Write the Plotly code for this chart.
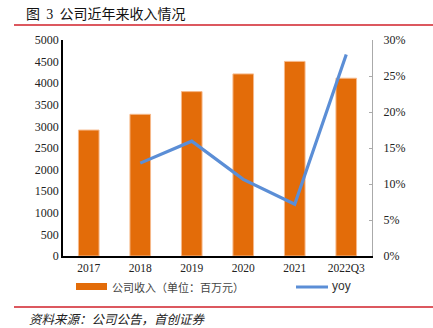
import plotly.graph_objects as go

categories = ["2017", "2018", "2019", "2020", "2021", "2022Q3"]
revenue = [2915, 3280, 3805, 4215, 4505, 4115]
yoy = [None, 12.9, 15.95, 10.65, 7.2, 28.0]
left_ticks = [0, 500, 1000, 1500, 2000, 2500, 3000, 3500, 4000, 4500, 5000]
right_ticks = [0, 5, 10, 15, 20, 25, 30]
title_parts = ["图", "3", "公司近年来收入情况"]
source_text = "资料来源：公司公告，首创证券"
bar_name = "公司收入（单位：百万元）"
line_name = "yoy"

W, H = 433, 328
L, R, T, B = 63, 372, 40, 256

def px(x):
    return (x - L) / (R - L)

def py(y):
    return (B - y) / (B - T)

SERIF = "Liberation Serif, Times New Roman, serif"
CJK = "Noto Sans CJK SC, sans-serif"
ORANGE = "#E36C09"
BLUE = "#5B8ED6"
RED = "#D0202A"

fig = go.Figure()
fig.add_trace(go.Bar(
    x=categories, y=revenue, name=bar_name, width=0.4,
    marker=dict(color=ORANGE, line=dict(color="#F6B98A", width=1)),
    showlegend=False,
))
fig.add_trace(go.Scatter(
    x=categories, y=yoy, name=line_name, yaxis="y2", mode="lines",
    line=dict(color=BLUE, width=3.2), connectgaps=False, showlegend=False,
))

fig.update_layout(
    width=W, height=H,
    margin=dict(l=L, r=W - R, t=T, b=H - B),
    paper_bgcolor="white", plot_bgcolor="white",
    bargap=0.6,
    xaxis=dict(
        showline=True, linecolor="black", linewidth=1.5, ticks="",
        tickfont=dict(family=SERIF, size=11.5, color="#222"),
        showgrid=False, mirror=False,
    ),
    yaxis=dict(
        range=[0, 5000], tickvals=left_ticks, showline=True, linecolor="black",
        linewidth=1.5, ticks="", showgrid=False, zeroline=False,
        tickfont=dict(family=SERIF, size=12, color="#222"),
    ),
    yaxis2=dict(
        range=[0, 30], tickvals=right_ticks, ticktext=[f"{v}%" for v in right_ticks],
        overlaying="y", side="right", showline=True, linecolor="#AAAAAA", linewidth=1.2,
        ticks="inside", ticklen=3, tickcolor="#AAAAAA", showgrid=False, zeroline=False,
        tickfont=dict(family=SERIF, size=12, color="#222"), ticklabelstandoff=8,
    ),
)

shapes = []
annotations = []
# title and underline
nb = "\u00a0"
title_html = (title_parts[0] + nb * 2 + f"<span style='font-family:{SERIF}'>" + title_parts[1]
              + "</span>" + nb * 2 + title_parts[2])
annotations.append(dict(text=title_html, x=px(24), y=py(13), xref="paper", yref="paper",
                        xanchor="left", yanchor="middle", showarrow=False,
                        font=dict(family=CJK, size=14, color="#111")))
shapes.append(dict(type="line", xref="paper", yref="paper", x0=px(14), x1=px(433),
                   y0=py(25), y1=py(25), line=dict(color=RED, width=1.5)))
# legend
shapes.append(dict(type="rect", xref="paper", yref="paper", x0=px(76), x1=px(107),
                   y0=py(283), y1=py(290), fillcolor=ORANGE, line=dict(width=0)))
annotations.append(dict(text=bar_name, x=px(110), y=py(286.5), xref="paper", yref="paper",
                        xanchor="left", yanchor="middle", showarrow=False,
                        font=dict(family=CJK, size=11, color="#444")))
shapes.append(dict(type="line", xref="paper", yref="paper", x0=px(296), x1=px(328),
                   y0=py(287), y1=py(287), line=dict(color=BLUE, width=3)))
annotations.append(dict(text=line_name, x=px(330), y=py(286), xref="paper", yref="paper",
                        xanchor="left", yanchor="middle", showarrow=False,
                        font=dict(family="Liberation Sans, Arial, sans-serif", size=12, color="#333")))
# source line and text
shapes.append(dict(type="line", xref="paper", yref="paper", x0=px(14), x1=px(433),
                   y0=py(307), y1=py(307), line=dict(color=RED, width=1.5)))
annotations.append(dict(text="<i>" + source_text + "</i>", x=px(27), y=py(318), xref="paper", yref="paper",
                        xanchor="left", yanchor="middle", showarrow=False,
                        font=dict(family=CJK, size=12.5, color="#222")))

fig.update_layout(shapes=shapes, annotations=annotations)
fig.write_html("out.html")
